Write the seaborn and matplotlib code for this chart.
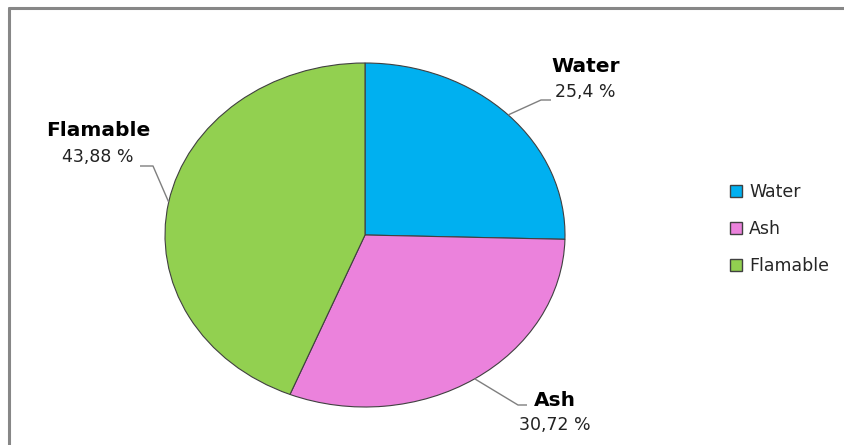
import numpy as np
import matplotlib
matplotlib.use("Agg")
import matplotlib.pyplot as plt
import seaborn as sns
from matplotlib.lines import Line2D

categories = ["Water", "Ash", "Flamable"]
values = [25.4, 30.72, 43.88]
pct_labels = ["25,4 %", "30,72 %", "43,88 %"]
colors = ["#00B0F0", "#EB82DC", "#92D050"]

sns.set_theme(style="white")
plt.rcParams["font.family"] = ["DejaVu Sans"]

W, H = 844, 445
fig = plt.figure(figsize=(W / 100, H / 100), dpi=100)
fig.patch.set_facecolor("white")

# pie ellipse: center (365,235), rx 200, ry 172 (pixels)
cx, cy, rx, ry = 365, 235, 200, 172
ax = fig.add_axes([(cx - rx) / W, (H - (cy + ry)) / H, 2 * rx / W, 2 * ry / H])
wedges, _ = ax.pie(values, colors=colors, startangle=90, counterclock=False,
                   wedgeprops=dict(edgecolor="#404040", linewidth=0.8))
ax.set_aspect("auto")
ax.set_xlim(-1, 1)
ax.set_ylim(-1, 1)
ax.axis("off")


def p2d(px, py):
    return ((px - cx) / rx, (cy - py) / ry)


# label layout (pixel positions): elbow, end, title center, pct center
layout = {
    "Water": dict(elbow=(541, 100), end=(551, 100), title=(586, 66), pct=(585, 92)),
    "Ash": dict(elbow=(518, 405), end=(527, 405), title=(555, 400), pct=(555, 425)),
    "Flamable": dict(elbow=(153, 166), end=(140, 166), title=(98, 130), pct=(98, 157)),
}

for w, cat, pl in zip(wedges, categories, pct_labels):
    ang = np.deg2rad((w.theta1 + w.theta2) / 2)
    ex, ey = np.cos(ang) * w.r, np.sin(ang) * w.r
    L = layout[cat]
    b = p2d(*L["elbow"])
    e = p2d(*L["end"])
    ax.plot([ex, b[0], e[0]], [ey, b[1], e[1]], color="#7f7f7f", lw=1.0,
            clip_on=False, solid_capstyle="butt")
    t = p2d(*L["title"])
    ax.text(t[0], t[1], cat, ha="center", va="center", fontsize=14.5,
            fontweight="bold", color="black", clip_on=False)
    p = p2d(*L["pct"])
    ax.text(p[0], p[1], pl, ha="center", va="center", fontsize=12.5,
            color="#222222", clip_on=False)

# legend
leg = fig.legend(wedges, categories, loc="center left",
                 bbox_to_anchor=(723 / W, 1 - 229 / H), frameon=False,
                 fontsize=12.5, handlelength=0.7, handleheight=0.7,
                 handletextpad=0.4, labelspacing=1.1, borderaxespad=0)
for h in leg.legend_handles:
    h.set_edgecolor("#404040")
    h.set_linewidth(1.0)

# outer frame (top and left)
fc = "#878787"
fig.add_artist(Line2D([9 / W, 1], [1 - 8 / H, 1 - 8 / H], color=fc, lw=2.2,
                      transform=fig.transFigure))
fig.add_artist(Line2D([9 / W, 9 / W], [0, 1 - 8 / H], color=fc, lw=2.2,
                      transform=fig.transFigure))

fig.savefig("out.png", dpi=100)
